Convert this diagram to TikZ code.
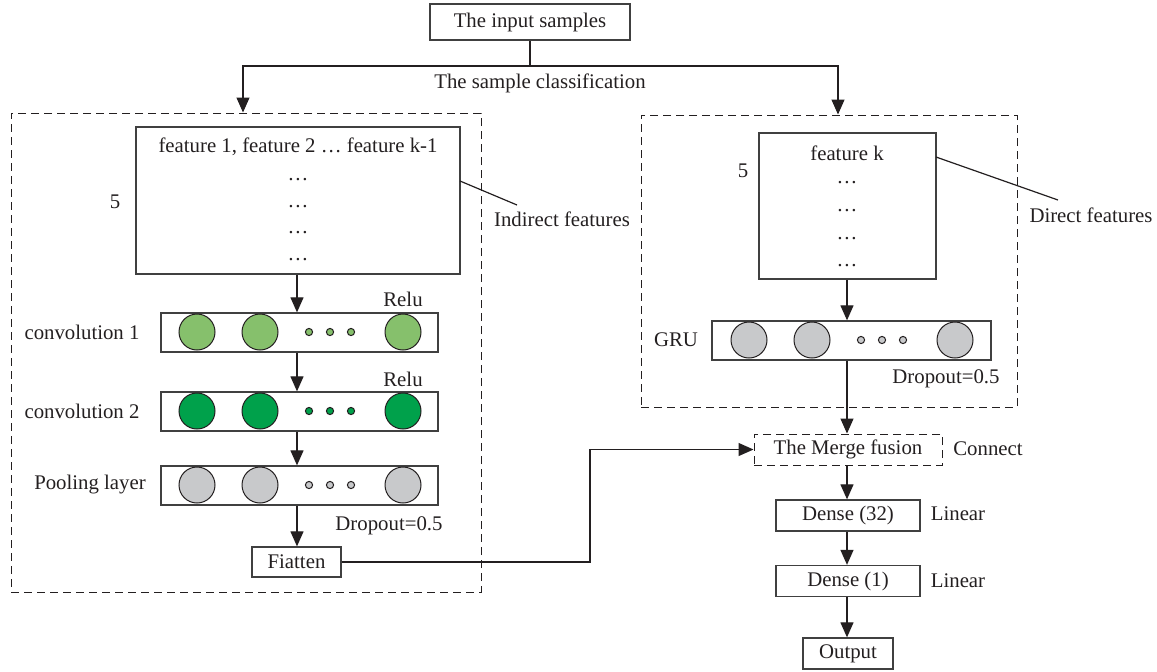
\documentclass[tikz,border=0pt]{standalone}
\usepackage{fontspec}
\setmainfont{Liberation Serif}
\usetikzlibrary{arrows.meta,calc}
\definecolor{ink}{HTML}{231F20}
\definecolor{edge}{HTML}{404040}
\definecolor{lgreen}{HTML}{86C06C}
\definecolor{dgreen}{HTML}{00A14B}
\definecolor{cgray}{HTML}{C8C9CB}
\tikzset{
  box/.style={draw=edge, line width=0.65pt, inner sep=0pt, text=ink},
  dbox/.style={draw=ink, line width=0.5pt, dash pattern=on 4pt off 2.5pt, inner sep=0pt},
  lbl/.style={text=ink, inner sep=0pt},
  arr/.style={draw=ink, line width=0.6pt, -{Triangle[length=7.5pt,width=6.5pt]}},
  ln/.style={draw=ink, line width=0.6pt},
  big/.style={circle, draw=ink, line width=0.5pt, minimum size=18pt, inner sep=0pt},
  dot/.style={circle, draw=ink, line width=0.5pt, minimum size=3.6pt, inner sep=0pt},
}
\begin{document}
\begin{tikzpicture}[x=0.5pt,y=-0.5pt,font=\fontsize{10.4}{12.5}\selectfont]
\useasboundingbox (0,0) rectangle (1157,671);

% top
\node[box, minimum width=100pt, minimum height=18pt] (input) at (530,22) {The input samples};
\coordinate (split) at (530,66);
\node[lbl] (cls) at (540,83) {The sample classification};

% dashed containers
\node[dbox, minimum width=235pt, minimum height=239.5pt] (L) at (246,352.5) {};
\node[dbox, minimum width=188pt, minimum height=146pt] (R) at (829,261) {};

\draw[ln] (input.south) -- (split);
\draw[arr] (split) -| ([xshift=-1.5pt]L.north);
\draw[arr] (split) -| ([xshift=4.5pt]R.north);

% ---------- left branch ----------
\node[box, minimum width=162pt, minimum height=73.5pt] (feat) at (298,200.5) {};
\node[lbl] (ft1) at (298,147) {feature 1, feature 2 … feature k-1};
\node[lbl] (fd1) at (298,180) {…};
\node[lbl] (fd2) at (298,207) {…};
\node[lbl] (fd3) at (298,233) {…};
\node[lbl] (fd4) at (298,260) {…};
\node[lbl] (five1) at (115,202) {5};
\coordinate (ia) at (460,181);
\coordinate (ib) at (517,205);
\draw[ln] (ia) -- (ib);
\node[lbl] (indir) at (562,219) {Indirect features};

% conv1
\node[box, minimum width=138.5pt, minimum height=19.5pt] (conv1) at (299.5,332.5) {};
\node[big, fill=lgreen] (c1a) at (197,332) {};
\node[big, fill=lgreen] (c1b) at (260,332) {};
\node[big, fill=lgreen] (c1c) at (403,332) {};
\node[dot, fill=lgreen] (c1d1) at (309,332) {};
\node[dot, fill=lgreen] (c1d2) at (330,332) {};
\node[dot, fill=lgreen] (c1d3) at (351,332) {};
\node[lbl] (conv1l) at (82,332) {convolution 1};
\node[lbl] (relu1) at (403,299) {Relu};

% conv2
\node[box, minimum width=138.5pt, minimum height=19.5pt] (conv2) at (299.5,411.5) {};
\node[big, fill=dgreen] (c2a) at (197,411) {};
\node[big, fill=dgreen] (c2b) at (260,411) {};
\node[big, fill=dgreen] (c2c) at (403,411) {};
\node[dot, fill=dgreen] (c2d1) at (309,411) {};
\node[dot, fill=dgreen] (c2d2) at (330,411) {};
\node[dot, fill=dgreen] (c2d3) at (351,411) {};
\node[lbl] (conv2l) at (82,411) {convolution 2};
\node[lbl] (relu2) at (403,379) {Relu};

% pooling
\node[box, minimum width=138.5pt, minimum height=19.5pt] (pool) at (299.5,485.5) {};
\node[big, fill=cgray] (p1) at (197,485) {};
\node[big, fill=cgray] (p2) at (260,485) {};
\node[big, fill=cgray] (p3) at (403,485) {};
\node[dot, fill=cgray] (pd1) at (309,485) {};
\node[dot, fill=cgray] (pd2) at (330,485) {};
\node[dot, fill=cgray] (pd3) at (351,485) {};
\node[lbl] (pooll) at (90,485) {Pooling layer};
\node[lbl] (drop1) at (389,526) {Dropout=0.5};

\node[box, minimum width=44.5pt, minimum height=15pt] (flat) at (296.5,562) {Fiatten};

\draw[arr] (feat.south -| 297,0) -- (conv1.north -| 297,0);
\draw[arr] (conv1.south -| 297,0) -- (conv2.north -| 297,0);
\draw[arr] (conv2.south -| 297,0) -- (pool.north -| 297,0);
\draw[arr] (pool.south -| 297,0) -- (flat.north -| 297,0);

% ---------- right branch ----------
\node[box, minimum width=88.5pt, minimum height=73pt] (featk) at (847.5,206) {};
\node[lbl] (fk1) at (847,153) {feature k};
\node[lbl] (fkd1) at (847,183) {…};
\node[lbl] (fkd2) at (847,211) {…};
\node[lbl] (fkd3) at (847,239) {…};
\node[lbl] (fkd4) at (847,266) {…};
\node[lbl] (five2) at (743,171) {5};
\coordinate (da) at (936,157);
\coordinate (db) at (1058,200);
\draw[ln] (da) -- (db);
\node[lbl] (dir) at (1091,215) {Direct features};

\node[box, minimum width=139.5pt, minimum height=19.5pt] (gru) at (851.5,340.5) {};
\node[big, fill=cgray] (g1) at (749,340) {};
\node[big, fill=cgray] (g2) at (812,340) {};
\node[big, fill=cgray] (g3) at (955,340) {};
\node[dot, fill=cgray] (gd1) at (861,340) {};
\node[dot, fill=cgray] (gd2) at (882,340) {};
\node[dot, fill=cgray] (gd3) at (903,340) {};
\node[lbl] (grul) at (676,340) {GRU};
\node[lbl] (drop2) at (946,379) {Dropout=0.5};

\node[dbox, text=ink, minimum width=94pt, minimum height=15.5pt] (merge) at (848,449.5) {The Merge fusion};
\node[lbl] (conn) at (988,449) {Connect};
\node[box, minimum width=72pt, minimum height=15.5pt] (d32) at (848,515.5) {Dense (32)};
\node[lbl] (lin1) at (958,514) {Linear};
\node[box, minimum width=72pt, minimum height=15.5pt] (d1) at (848,581) {Dense (1)};
\node[lbl] (lin2) at (958,581) {Linear};
\node[box, minimum width=45pt, minimum height=15.5pt] (out) at (848,653.5) {Output};

\draw[arr] (featk.south -| 847,0) -- (gru.north -| 847,0);
\draw[arr] (gru.south -| 847,0) -- (merge.north -| 847,0);
\draw[arr] (merge.south -| 847,0) -- (d32.north -| 847,0);
\draw[arr] (d32.south -| 847,0) -- (d1.north -| 847,0);
\draw[arr] (d1.south -| 847,0) -- (out.north -| 847,0);

\coordinate (bend) at (590,562);
\draw[arr] (flat.east) -- (bend) |- (merge.west);
\end{tikzpicture}
\end{document}
